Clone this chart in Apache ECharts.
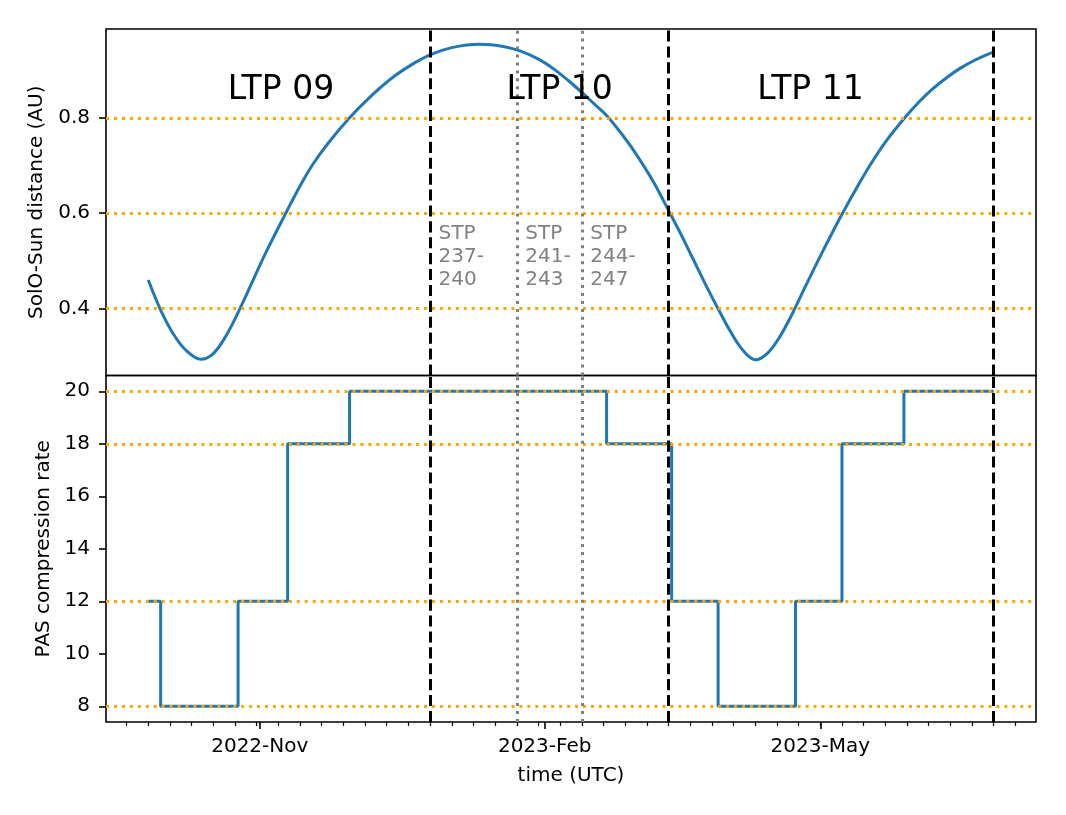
<!DOCTYPE html>
<html>
<head>
<meta charset="utf-8">
<script src="https://cdn.jsdelivr.net/npm/echarts@6/dist/echarts.min.js"></script>
<style>html,body{margin:0;padding:0;background:#fff}#c{width:1066px;height:815px}</style>
</head>
<body>
<div id="c"></div>
<script>
// ---- data ----
const distDates = ['2022-09-26','2022-09-30','2022-10-04','2022-10-08','2022-10-13','2022-10-17','2022-10-21','2022-10-25','2022-10-30','2022-11-03','2022-11-09','2022-11-14','2022-11-18','2022-11-23','2022-11-30','2022-12-07','2022-12-14','2022-12-21','2022-12-26','2023-01-02','2023-01-11','2023-01-19','2023-01-24','2023-01-30','2023-02-04','2023-02-09','2023-02-13','2023-02-17','2023-02-21','2023-02-26','2023-03-02','2023-03-08','2023-03-13','2023-03-17','2023-03-21','2023-03-25','2023-03-29','2023-04-02','2023-04-06','2023-04-10','2023-04-14','2023-04-18','2023-04-22','2023-04-26','2023-05-01','2023-05-05','2023-05-08','2023-05-13','2023-05-17','2023-05-22','2023-05-28','2023-06-02','2023-06-06','2023-06-11','2023-06-15','2023-06-20','2023-06-26'];
const distValues = [0.460,0.397,0.348,0.314,0.294,0.306,0.342,0.392,0.462,0.518,0.595,0.657,0.701,0.746,0.800,0.846,0.885,0.915,0.932,0.947,0.954,0.949,0.940,0.923,0.902,0.876,0.853,0.829,0.805,0.765,0.729,0.667,0.606,0.556,0.503,0.450,0.400,0.352,0.313,0.293,0.307,0.342,0.390,0.444,0.510,0.561,0.598,0.656,0.700,0.749,0.798,0.834,0.859,0.885,0.903,0.921,0.938];
const rateDates = ['2022-09-26','2022-09-30','2022-10-25','2022-11-10','2022-11-30','2023-02-21','2023-03-14','2023-03-29','2023-04-23','2023-05-08','2023-05-28','2023-06-26'];
const rateValues = [12,8,12,18,20,18,12,8,12,18,20,20];
const ltpLineDates = ['2022-12-26','2023-03-13','2023-06-26'];
const stpLineDates = ['2023-01-23','2023-02-13'];
const distRefLines = [0.4,0.6,0.8];
const rateRefLines = [8,12,18,20];
const ltpLabels = ['LTP 09','LTP 10','LTP 11'];
const ltpLabelDates = ['2022-11-08','2023-02-06','2023-04-28'];
const ltpLabelY = 0.856;
const stpLabels = ['STP\n237-\n240','STP\n241-\n243','STP\n244-\n247'];
const stpLabelDates = ['2022-12-26','2023-01-23','2023-02-13'];
const stpLabelY = 0.508;
const xTickDates = ['2022-11-01','2023-02-01','2023-05-01'];
const xTickLabels = ['2022-Nov','2023-Feb','2023-May'];
const distTicks = [0.4,0.6,0.8];
const rateTicks = [8,10,12,14,16,18,20];

// ---- helpers ----
function ts(d){const p=d.split('-').map(Number);return Date.UTC(p[0],p[1]-1,p[2]);}
const allT = distDates.map(ts);
const t0 = Math.min(...allT), t1 = Math.max(...allT);
const xMin = t0 - 0.05*(t1-t0), xMax = t1 + 0.05*(t1-t0);
const mondays = [];
for (let t = Math.ceil(xMin/86400000)*86400000; t <= xMax; t += 86400000) {
  if (new Date(t).getUTCDay() === 1) mondays.push(t);
}
const majorT = xTickDates.map(ts);
const FONT = 'DejaVu Sans';
const BLUE = '#1f77b4', ORANGE = '#ffa500', GREY = '#808080';
const dashed = {color:'#000', width:3, type:[11.1,4.8], cap:'butt'};
const dotOrange = {color:ORANGE, width:3, type:[3,4.95], cap:'butt'};
const dotGrey = {color:GREY, width:3, type:[3,4.95], cap:'butt'};

function vLines(){
  return ltpLineDates.map(d=>({xAxis:ts(d), lineStyle:dashed}))
    .concat(stpLineDates.map(d=>({xAxis:ts(d), lineStyle:dotGrey})));
}
function markLine(hvals){
  return {silent:true, symbol:['none','none'], label:{show:false}, animation:false,
    emphasis:{disabled:true},
    data: hvals.map(v=>({yAxis:v, lineStyle:dotOrange})).concat(vLines())};
}

const chart = echarts.init(document.getElementById('c'), null, {renderer:'canvas', width:1066, height:815});
const yTick = {show:true, length:7, lineStyle:{color:'#000', width:1.6}};
chart.setOption({
  animation:false,
  backgroundColor:'#fff',
  textStyle:{fontFamily:FONT},
  grid:[
    {left:106, top:29, width:930, height:346.5, show:true, borderColor:'#000', borderWidth:1.6, backgroundColor:'transparent', containLabel:false},
    {left:106, top:375.5, width:930, height:346.5, show:true, borderColor:'#000', borderWidth:1.6, backgroundColor:'transparent', containLabel:false}
  ],
  xAxis:[
    {type:'value', gridIndex:0, min:xMin, max:xMax, show:false},
    {type:'value', gridIndex:1, min:xMin, max:xMax, position:'bottom',
      axisLine:{show:false}, splitLine:{show:false},
      axisTick:{show:true, customValues:majorT, length:7, lineStyle:{color:'#000', width:1.6}},
      axisLabel:{show:true, customValues:majorT, margin:15, fontSize:20, color:'#000', fontFamily:FONT,
        formatter:(v)=>{const i=majorT.indexOf(v);return i>=0?xTickLabels[i]:'';}},
      name:'time (UTC)', nameLocation:'middle', nameGap:44,
      nameTextStyle:{fontSize:20, color:'#000', fontFamily:FONT}},
    {type:'value', gridIndex:1, min:xMin, max:xMax, position:'bottom', offset:0,
      axisLine:{show:false}, splitLine:{show:false}, axisLabel:{show:false},
      axisTick:{show:true, customValues:mondays, length:4, lineStyle:{color:'#000', width:1.2}}}
  ],
  yAxis:[
    {type:'value', gridIndex:0, min:0.260, max:0.986, axisLine:{show:false}, splitLine:{show:false},
      axisTick:Object.assign({customValues:distTicks}, yTick),
      axisLabel:{customValues:distTicks, margin:16, fontSize:20, color:'#000', fontFamily:FONT, padding:[7,0,0,0],
        formatter:(v)=>v.toFixed(1)},
      name:'SolO-Sun distance (AU)', nameLocation:'middle', nameGap:55,
      nameTextStyle:{fontSize:20, color:'#000', fontFamily:FONT}},
    {type:'value', gridIndex:1, min:7.4, max:20.6, axisLine:{show:false}, splitLine:{show:false},
      axisTick:Object.assign({customValues:rateTicks}, yTick),
      axisLabel:{customValues:rateTicks, margin:16, fontSize:20, color:'#000', fontFamily:FONT, padding:[7,0,0,0],
        formatter:(v)=>String(Math.round(v))},
      name:'PAS compression rate', nameLocation:'middle', nameGap:47,
      nameTextStyle:{fontSize:20, color:'#000', fontFamily:FONT}}
  ],
  series:[
    {type:'line', xAxisIndex:0, yAxisIndex:0, showSymbol:false, smooth:0.35, z:2,
      lineStyle:{color:BLUE, width:3}, itemStyle:{color:BLUE},
      data: distDates.map((d,i)=>[ts(d), distValues[i]]),
      markLine: markLine(distRefLines)},
    {type:'line', xAxisIndex:1, yAxisIndex:1, showSymbol:false, step:'end', z:2,
      lineStyle:{color:BLUE, width:3}, itemStyle:{color:BLUE},
      data: rateDates.map((d,i)=>[ts(d), rateValues[i]]),
      markLine: markLine(rateRefLines)},
    {type:'scatter', xAxisIndex:0, yAxisIndex:0, symbolSize:1, z:6, silent:true,
      itemStyle:{color:'transparent', opacity:1},
      label:{show:true, position:[0,0], align:'center', verticalAlign:'middle', fontSize:33, color:'#000', opacity:1, fontFamily:FONT,
        formatter:(p)=>p.name},
      data: ltpLabels.map((s,i)=>({name:s, value:[ts(ltpLabelDates[i]), ltpLabelY]}))},
    {type:'scatter', xAxisIndex:0, yAxisIndex:0, symbolSize:1, z:6, silent:true,
      itemStyle:{color:'transparent', opacity:1},
      label:{show:true, position:[9,0], align:'left', verticalAlign:'middle', fontSize:20, lineHeight:23.3, color:GREY, opacity:1, fontFamily:FONT,
        formatter:(p)=>p.name},
      data: stpLabels.map((s,i)=>({name:s, value:[ts(stpLabelDates[i]), stpLabelY]}))}
  ]
});
</script>
</body>
</html>
